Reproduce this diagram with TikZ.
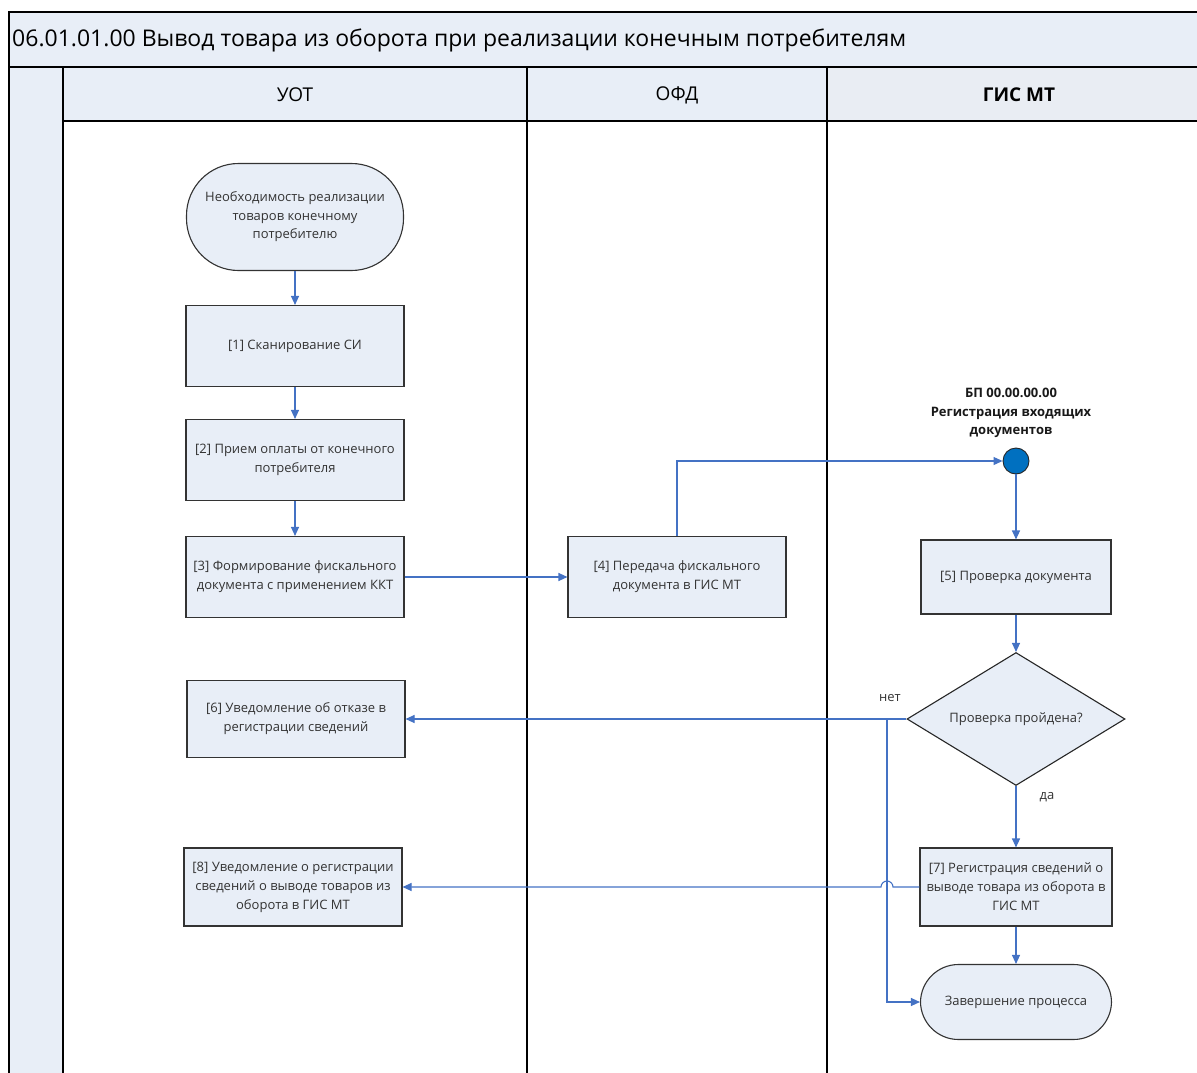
\documentclass[tikz,border=0pt]{standalone}
\usepackage{fontspec}
\setmainfont{Open Sans}
\usetikzlibrary{arrows.meta,shapes.geometric,positioning}

\definecolor{boxfill}{HTML}{E8EEF7}
\definecolor{gisfill}{HTML}{E9EDF3}
\definecolor{flowblue}{HTML}{4472C4}
\definecolor{dotblue}{HTML}{0070C0}
\definecolor{textgray}{HTML}{333333}

\begin{document}
\begin{tikzpicture}[x=1pt,y=-1pt,>={Triangle[length=9pt,width=8pt]},
	lane/.style={draw=black,line width=1.4pt},
	box/.style={shape=rectangle,draw=black!80,line width=1.1pt,fill=boxfill,text=textgray,align=center,
		font=\fontsize{13}{19}\selectfont,minimum width=218pt,minimum height=81pt,inner sep=2pt},
	term/.style={box,rounded corners=38pt},
	flow/.style={draw=flowblue,line width=1.1pt},
	lbl/.style={text=textgray,font=\fontsize{13}{19}\selectfont}]
	\useasboundingbox (0,0) rectangle (1197,1073);

	% pool and lanes
	\fill[boxfill] (9,12) rectangle (1197,67);
	\fill[boxfill] (9,67) rectangle (63,1073);
	\fill[boxfill] (63,67) rectangle (827,121);
	\fill[gisfill] (827,67) rectangle (1197,121);
	\draw[lane] (9,1073) -- (9,12) -- (1197,12);
	\draw[lane] (9,67) -- (1197,67);
	\draw[lane] (63,121) -- (1197,121);
	\draw[lane] (63,67) -- (63,1073);
	\draw[lane] (527,67) -- (527,1073);
	\draw[lane] (827,67) -- (827,1073);

	\node (title) [anchor=west,font=\fontsize{23}{27}\selectfont] at (8.7,40.5) {06.01.01.00 Вывод товара из оборота при реализации конечным потребителям};
	\node (uot) [font=\fontsize{19}{22}\selectfont] at (295,95) {УОТ};
	\node (ofd) [font=\fontsize{19}{22}\selectfont] at (677,95) {ОФД};
	\node (gis) [font=\fontsize{19}{22}\selectfont\bfseries] at (1019,95) {ГИС МТ};

	% steps
	\node (start) [term,rounded corners=52pt,minimum width=217pt,minimum height=107pt,font=\fontsize{13}{18.5}\selectfont] at (295,217) {
		Необходимость реализации\\товаров конечному\\потребителю};
	\node (scan) [box,node distance=129pt] [below of = start] {[1] Сканирование СИ};
	\node (payment) [box,node distance=114pt] [below of = scan] {[2] Прием оплаты от конечного\\потребителя};
	\node (fiscal) [box,node distance=117pt] [below of = payment] {
		[3] Формирование фискального\\документа с применением ККТ};
	\node (transfer) [box,node distance=382pt] [right of = fiscal] {
		[4] Передача фискального\\документа в ГИС МТ};

	\node (bpcircle) [shape=circle,draw=black!85,line width=0.9pt,fill=dotblue,minimum size=26pt,inner sep=0pt] at (1016,461) {};
	\node (bplabel) [font=\fontsize{13}{18.5}\selectfont\bfseries,align=center,text=black!90] at (1011,413) {
		БП 00.00.00.00\\Регистрация входящих\\документов};

	\node (check) [box,minimum width=190pt,minimum height=74pt] at (1016,577) {[5] Проверка документа};
	\node (decision) [shape=diamond,aspect=1.64,draw=black!85,line width=1.1pt,fill=boxfill,text=textgray,
		font=\fontsize{13}{19}\selectfont,minimum width=218pt,minimum height=133pt,inner sep=0pt] at (1016,719) {Проверка пройдена?};
	\node (refusal) [box,minimum height=77pt] at (296,719) {[6] Уведомление об отказе в\\регистрации сведений};
	\node (register) [box,minimum width=192pt,minimum height=78pt] at (1016,887) {
		[7] Регистрация сведений о\\выводе товара из оборота в\\ГИС МТ};
	\node (notice) [box,minimum height=78pt] at (293,887) {
		[8] Уведомление о регистрации\\сведений о выводе товаров из\\оборота в ГИС МТ};
	\node (finish) [term,minimum width=191pt,minimum height=75pt] at (1016,1002) {Завершение процесса};

	\node (no) [lbl] at (890,698) {нет};
	\node (yes) [lbl] at (1047,797) {да};
	\coordinate (branch) at (887,719);
	\coordinate (hop) at (893,887);

	% connectors
	\path[->] (start) edge[flow] (scan);
	\path[->] (scan) edge[flow] (payment);
	\path[->] (payment) edge[flow] (fiscal);
	\path[->] (fiscal) edge[flow] (transfer);
	\draw[->,flow] (transfer.north) |- (bpcircle.west);
	\path[->] (bpcircle.south) edge[flow] (check.north);
	\path[->] (check.south) edge[flow] (decision.north);
	\path[->] (decision.west) edge[flow] (refusal.east);
	\draw[->,flow] (branch) |- (finish.west);
	\path[->] (decision.south) edge[flow] (register.north);
	\draw[->,flow] (register.west) -- (hop) arc[start angle=0,end angle=180,radius=6pt] -- (notice.east);
	\path[->] (register) edge[flow] (finish);
\end{tikzpicture}
\end{document}
